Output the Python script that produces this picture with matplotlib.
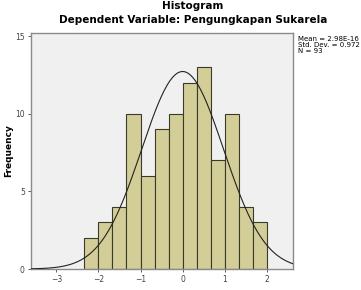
import matplotlib.pyplot as plt
import numpy as np

# histogram bins (standardized residuals) and counts
bin_edges = [-7/3, -2, -5/3, -4/3, -1, -2/3, -1/3, 0, 1/3, 2/3, 1, 4/3, 5/3, 2]
counts = [2, 3, 4, 10, 6, 9, 10, 12, 13, 7, 10, 4, 3]
x_ticks = [-3, -2, -1, 0, 1, 2]
y_ticks = [0, 5, 10, 15]
mean_val = 2.98e-16
std_val = 0.972
n_val = 93

fig = plt.figure(figsize=(3.61, 2.90), dpi=100)
ax = fig.add_axes([0.0859, 0.0724, 0.7257, 0.8136])
ax.set_facecolor('#f0f0f0')

edges = np.array(bin_edges)
widths = np.diff(edges)
ax.bar(edges[:-1], counts, width=widths, align='edge', color='#d3ce97',
       edgecolor='#3a3a2a', linewidth=0.8, zorder=2)

# normal curve scaled to counts
xs = np.linspace(-3.6, 2.62, 300)
bw = widths[0]
ys = n_val * bw / (std_val * np.sqrt(2 * np.pi)) * np.exp(-0.5 * ((xs - mean_val) / std_val) ** 2)
ax.plot(xs, ys, color='#222222', linewidth=0.8, zorder=3)

ax.set_xlim(-3.6, 2.62)
ax.set_ylim(0, 15.2)
ax.set_xticks(x_ticks)
ax.set_yticks(y_ticks)
ax.tick_params(labelsize=5.5, length=2.5, width=0.6, colors='#444444', pad=2)
for s in ax.spines.values():
    s.set_color('#8a8a8a')
    s.set_linewidth(1.0)

fig.text(0.024, 0.48, 'Frequency', rotation=90, ha='center', va='center',
         fontsize=6.5, fontweight='bold')

fig.text(0.535, 0.998, 'Histogram', ha='center', va='top', fontsize=7.5, fontweight='bold')
fig.text(0.535, 0.93, 'Dependent Variable: Pengungkapan Sukarela', ha='center', va='center',
         fontsize=7.5, fontweight='bold')

fig.text(0.825, 0.845, 'Mean = %.2E' % mean_val + '\nStd. Dev. = %.3f' % std_val + '\nN = %d' % n_val,
         ha='left', va='center', fontsize=5, linespacing=0.95)

fig.savefig('out.png', dpi=100)
